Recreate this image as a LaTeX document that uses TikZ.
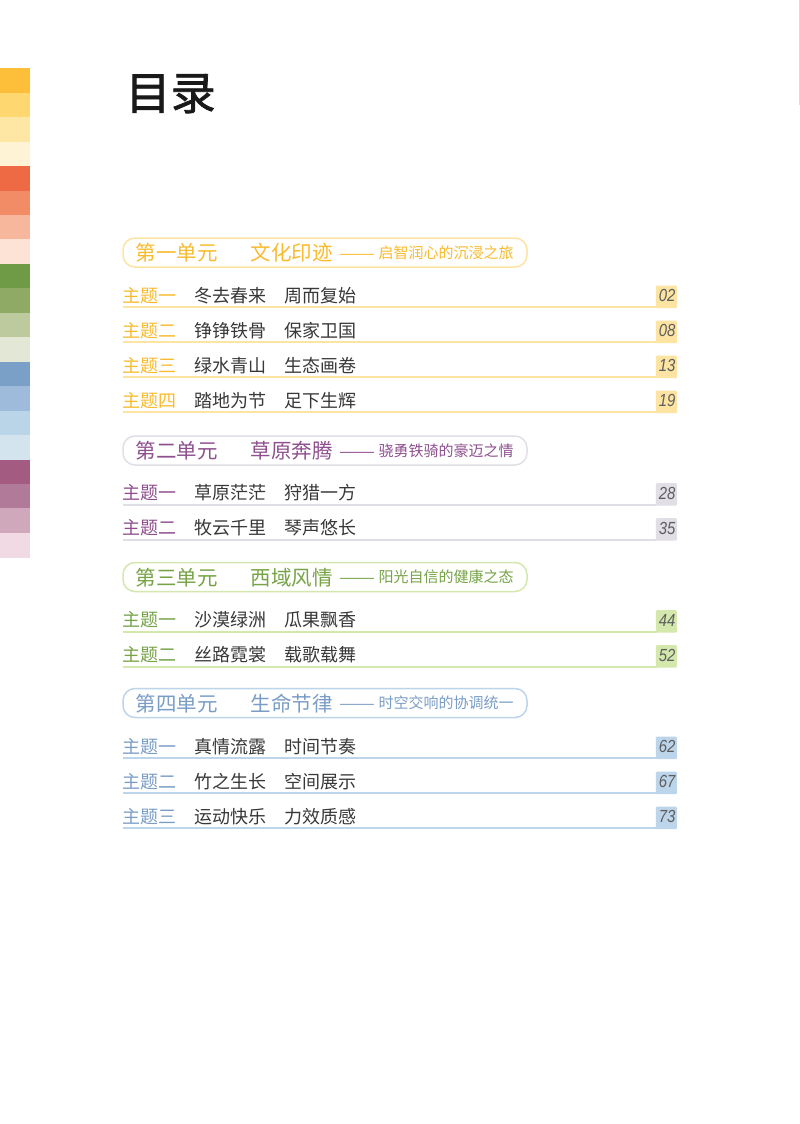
\documentclass[tikz,border=0pt]{standalone}
\usepackage{fontspec}
\newfontfamily\cjk{Noto Sans CJK SC}
\newfontfamily\cjkt{Noto Sans CJK SC}[FakeBold=1.6]
\newfontfamily\numf{Liberation Sans}[FakeStretch=0.85]
\definecolor{bodyc}{HTML}{383838}
\definecolor{pagec}{HTML}{5E5E5E}
\definecolor{yA}{HTML}{F8BB2E}\definecolor{yL}{HTML}{FDE4A2}
\definecolor{pA}{HTML}{8E4F8E}\definecolor{pL}{HTML}{E2DEE6}
\definecolor{gA}{HTML}{76A346}\definecolor{gL}{HTML}{D4E8AE}
\definecolor{bA}{HTML}{7A9DC6}\definecolor{bL}{HTML}{BDD5EA}
\definecolor{c1}{HTML}{FDBF3A}\definecolor{c2}{HTML}{FED771}\definecolor{c3}{HTML}{FEE7A4}\definecolor{c4}{HTML}{FFF3D6}
\definecolor{c5}{HTML}{EE6A44}\definecolor{c6}{HTML}{F28C66}\definecolor{c7}{HTML}{F7B79C}\definecolor{c8}{HTML}{FDE2D6}
\definecolor{c9}{HTML}{6F9A46}\definecolor{c10}{HTML}{8EAA65}\definecolor{c11}{HTML}{BCCA9D}\definecolor{c12}{HTML}{E2E7D6}
\definecolor{c13}{HTML}{7BA0C7}\definecolor{c14}{HTML}{9EBBDB}\definecolor{c15}{HTML}{BAD4E8}\definecolor{c16}{HTML}{D3E4EF}
\definecolor{c17}{HTML}{A35B82}\definecolor{c18}{HTML}{B27A99}\definecolor{c19}{HTML}{CFA9BB}\definecolor{c20}{HTML}{F1DAE3}
\tikzset{
  txt/.style={inner sep=0pt, anchor=base west},
  hd/.style={txt, font=\cjk\fontsize{20.5}{22}\selectfont},
  sub/.style={txt, font=\cjk\fontsize{15}{17}\selectfont},
  dsh/.style={txt, font=\cjk\fontsize{16.5}{18}\selectfont},
  rowt/.style={txt, font=\cjk\fontsize{18}{20}\selectfont},
  unitbox/.style={line width=1.5pt, rounded corners=12pt, minimum width=404pt, minimum height=29pt, inner sep=0pt},
  pgbox/.style={inner sep=0pt, minimum width=21pt, minimum height=22.5pt, anchor=south east, rounded corners=1pt},
  pgnum/.style={inner sep=0pt, anchor=base east, text=pagec, font=\numf\itshape\fontsize{17.5}{19}\selectfont},
}
% #1 name, #2 y, #3 dark colour, #4 light colour, #5 unit, #6 title, #7 subtitle
\newcommand\myunit[7]{%
  \node[unitbox, draw=#4] (#1box) at (325,#2) {};
  \node[hd, text=#3] (#1a) at (135.5,#2+8) {#5};
  \node[hd, text=#3] (#1b) at (250.5,#2+8) {#6};
  \node[dsh, text=#3] (#1c) at (339,#2+6.5) {\scalebox{1.3}[1]{——}};
  \node[sub, text=#3] (#1d) at (378.5,#2+5.8) {#7};
}
% #1 name, #2 y, #3 dark, #4 light, #5 topic, #6 text1, #7 text2, #8 page
\newcommand\myrow[8]{%
  \node[rowt, text=#3] (#1t) at (122,#2+7) {#5};
  \node[rowt, text=bodyc] (#1a) at (194,#2+7) {#6};
  \node[rowt, text=bodyc] (#1b) at (284.5,#2+7) {#7};
  \draw[#4, line width=2.2pt] (123,#2+12.3) -- (657,#2+12.3);
  \node[pgbox, fill=#4] (#1p) at (677,#2+13.4) {};
  \node[pgnum] (#1n) at (675.5,#2+6.8) {#8};
}
\begin{document}
\begin{tikzpicture}[x=1pt,y=-1pt]
\useasboundingbox (0,0) rectangle (800,1124);
\fill[white] (0,0) rectangle (800,1124);
% colour bar
\foreach \i in {1,...,20}{
  \fill[c\i] (0,{68.3+(\i-1)*24.45}) rectangle (30,{68.3+\i*24.45+0.3});
}
% right edge line
\draw[yL!80!yA, line width=1pt] (799.3,0) -- (799.3,105);
% title
\node[txt, font=\cjkt\fontsize{45}{48}\selectfont, text=black!90] (title) at (125.5,109.5) {目录};
% unit 1
\myunit{ua}{252.5}{yA}{yL}{第一单元}{文化印迹}{启智润心的沉浸之旅}
\myrow{ra}{295}{yA}{yL}{主题一}{冬去春来}{周而复始}{02}
\myrow{rb}{330}{yA}{yL}{主题二}{铮铮铁骨}{保家卫国}{08}
\myrow{rc}{365}{yA}{yL}{主题三}{绿水青山}{生态画卷}{13}
\myrow{rd}{400}{yA}{yL}{主题四}{踏地为节}{足下生辉}{19}
% unit 2
\myunit{ub}{450.5}{pA}{pL}{第二单元}{草原奔腾}{骁勇铁骑的豪迈之情}
\myrow{re}{492.5}{pA}{pL}{主题一}{草原茫茫}{狩猎一方}{28}
\myrow{rf}{527.5}{pA}{pL}{主题二}{牧云千里}{琴声悠长}{35}
% unit 3
\myunit{uc}{577}{gA}{gL}{第三单元}{西域风情}{阳光自信的健康之态}
\myrow{rg}{619.5}{gA}{gL}{主题一}{沙漠绿洲}{瓜果飘香}{44}
\myrow{rh}{654.5}{gA}{gL}{主题二}{丝路霓裳}{载歌载舞}{52}
% unit 4
\myunit{ud}{703}{bA}{bL}{第四单元}{生命节律}{时空交响的协调统一}
\myrow{ri}{746}{bA}{bL}{主题一}{真情流露}{时间节奏}{62}
\myrow{rj}{781}{bA}{bL}{主题二}{竹之生长}{空间展示}{67}
\myrow{rk}{816}{bA}{bL}{主题三}{运动快乐}{力效质感}{73}
\end{tikzpicture}
\end{document}
